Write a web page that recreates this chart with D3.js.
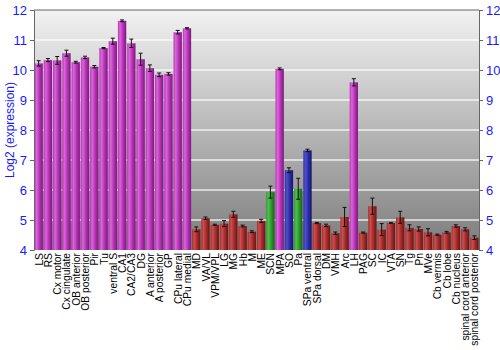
<!DOCTYPE html>
<html><head><meta charset="utf-8">
<script src="https://cdn.jsdelivr.net/npm/d3@7"></script>
<style>body{margin:0;background:#fff}svg{display:block}</style>
</head><body><svg id="c" width="500" height="350"></svg>
<script>
const categories = ["LS","RS","Cx motor","Cx cingulate","OB anterior","OB posterior","Pir","Tu","ventral S","CA1","CA2/CA3","DG","A anterior","A posterior","GP","CPu lateral","CPu medial","MD","VA/VL","VPM/VPL","LG","MG","Hb","M","ME","SCN","MPA","SO","Pa","SPa ventral","SPa dorsal","DM","VMH","Arc","LH","PAG","SC","IC","VTA","SN","Tg","Pn","MVe","Cb vermis","Cb lobe","Cb nucleus","spinal cord anterior","spinal cord posterior"];
const values = [10.22,10.33,10.32,10.56,10.26,10.42,10.11,10.73,10.96,11.64,10.89,10.36,10.06,9.84,9.87,11.26,11.39,4.69,5.06,4.84,4.88,5.19,4.8,4.61,4.97,5.93,10.04,6.66,6.04,7.32,4.9,4.82,4.56,5.1,9.59,4.58,5.46,4.68,4.9,5.09,4.74,4.7,4.59,4.51,4.59,4.8,4.69,4.41];
const errors = [0.09,0.05,0.13,0.1,0.03,0.04,0.04,0.02,0.1,0.03,0.14,0.2,0.11,0.06,0.04,0.06,0.02,0.08,0.04,0.02,0.1,0.1,0.03,0.03,0.05,0.2,0.03,0.08,0.35,0.04,0.02,0.04,0.04,0.32,0.12,0.02,0.27,0.2,0.01,0.2,0.1,0.07,0.12,0.02,0.03,0.04,0.05,0.06];
const groups = ["p","p","p","p","p","p","p","p","p","p","p","p","p","p","p","p","p","r","r","r","r","r","r","r","r","g","p","b","g","b","r","r","r","r","p","r","r","r","r","r","r","r","r","r","r","r","r","r"];
const yTicks = [4,5,6,7,8,9,10,11,12];
const yLabel = "Log2 (expression)";

const palette = {p:["#d868d8","#b832b8","#7a1a7a"], r:["#c85050","#a82a2a","#6a1414"], g:["#50c050","#2c9a2c","#186018"], b:["#5050c8","#2c2ca8","#16166a"]};

const svg = d3.select("#c");
const L=34, R=479, T=10, B=250;
const x = d3.scaleBand().domain(categories).range([L,R]).paddingInner(0.1).paddingOuter(0.05);
const y = d3.scaleLinear().domain([4,12]).range([B,T]);

const defs = svg.append("defs");
const bg = defs.append("linearGradient").attr("id","bg").attr("x1",0).attr("y1",0).attr("x2",0).attr("y2",1);
bg.append("stop").attr("offset",0).attr("stop-color","#f2f2f2");
bg.append("stop").attr("offset",1).attr("stop-color","#7c7c7c");
Object.entries(palette).forEach(([k,c])=>{
  const g = defs.append("linearGradient").attr("id","g"+k).attr("x1",0).attr("y1",0).attr("x2",1).attr("y2",0);
  g.append("stop").attr("offset",0).attr("stop-color",c[1]);
  g.append("stop").attr("offset",0.25).attr("stop-color",c[0]);
  g.append("stop").attr("offset",0.6).attr("stop-color",c[1]);
  g.append("stop").attr("offset",1).attr("stop-color",c[2]);
});

svg.append("rect").attr("x",L).attr("y",T).attr("width",R-L).attr("height",B-T).attr("fill","url(#bg)");
svg.append("g").selectAll("line").data(yTicks.slice(1,-1)).join("line")
  .attr("x1",L).attr("x2",R).attr("y1",d=>y(d)).attr("y2",d=>y(d))
  .attr("stroke","#ffffff").attr("stroke-opacity",0.8).attr("stroke-width",1.5);

svg.append("g").selectAll("rect").data(values).join("rect")
  .attr("x",(d,i)=>x(categories[i])).attr("width",x.bandwidth())
  .attr("y",d=>y(d)).attr("height",d=>B-y(d))
  .attr("fill",(d,i)=>"url(#g"+groups[i]+")");

const eb = svg.append("g").attr("stroke","#111").attr("stroke-width",1);
values.forEach((v,i)=>{
  const cx = x(categories[i])+x.bandwidth()/2, e=errors[i];
  eb.append("line").attr("x1",cx).attr("x2",cx).attr("y1",y(v+e)).attr("y2",y(v-e));
  eb.append("line").attr("x1",cx-2).attr("x2",cx+2).attr("y1",y(v+e)).attr("y2",y(v+e));
  eb.append("line").attr("x1",cx-2).attr("x2",cx+2).attr("y1",y(v-e)).attr("y2",y(v-e));
});

const yl = svg.append("g").attr("transform",`translate(${L},0)`).call(d3.axisLeft(y).tickValues(yTicks).tickSize(4).tickPadding(3).tickFormat(d3.format("d")));
const yr = svg.append("g").attr("transform",`translate(${R},0)`).call(d3.axisRight(y).tickValues(yTicks).tickSize(4).tickPadding(3).tickFormat(d3.format("d")));
[yl,yr].forEach(a=>{
  a.select(".domain").attr("stroke","#666");
  a.selectAll(".tick line").attr("stroke","#666");
  a.selectAll("text").attr("fill","#1a1aff").attr("font-family","Liberation Sans, Arial, sans-serif").attr("font-size",13);
});
svg.append("line").attr("x1",L).attr("x2",R).attr("y1",T).attr("y2",T).attr("stroke","#666");

svg.append("g").selectAll("text").data(categories).join("text")
  .attr("transform",d=>`translate(${x(d)+x.bandwidth()/2+4},${B+3}) rotate(-90)`)
  .attr("text-anchor","end").attr("font-family","Liberation Sans, Arial, sans-serif").attr("font-size",10.3).attr("fill","#000")
  .text(d=>d);

svg.append("text").attr("transform",`translate(14,${(T+B)/2}) rotate(-90)`).attr("text-anchor","middle")
  .attr("font-family","Liberation Sans, Arial, sans-serif").attr("font-size",12).attr("fill","#1a1aff").text(yLabel);
</script></body></html>
